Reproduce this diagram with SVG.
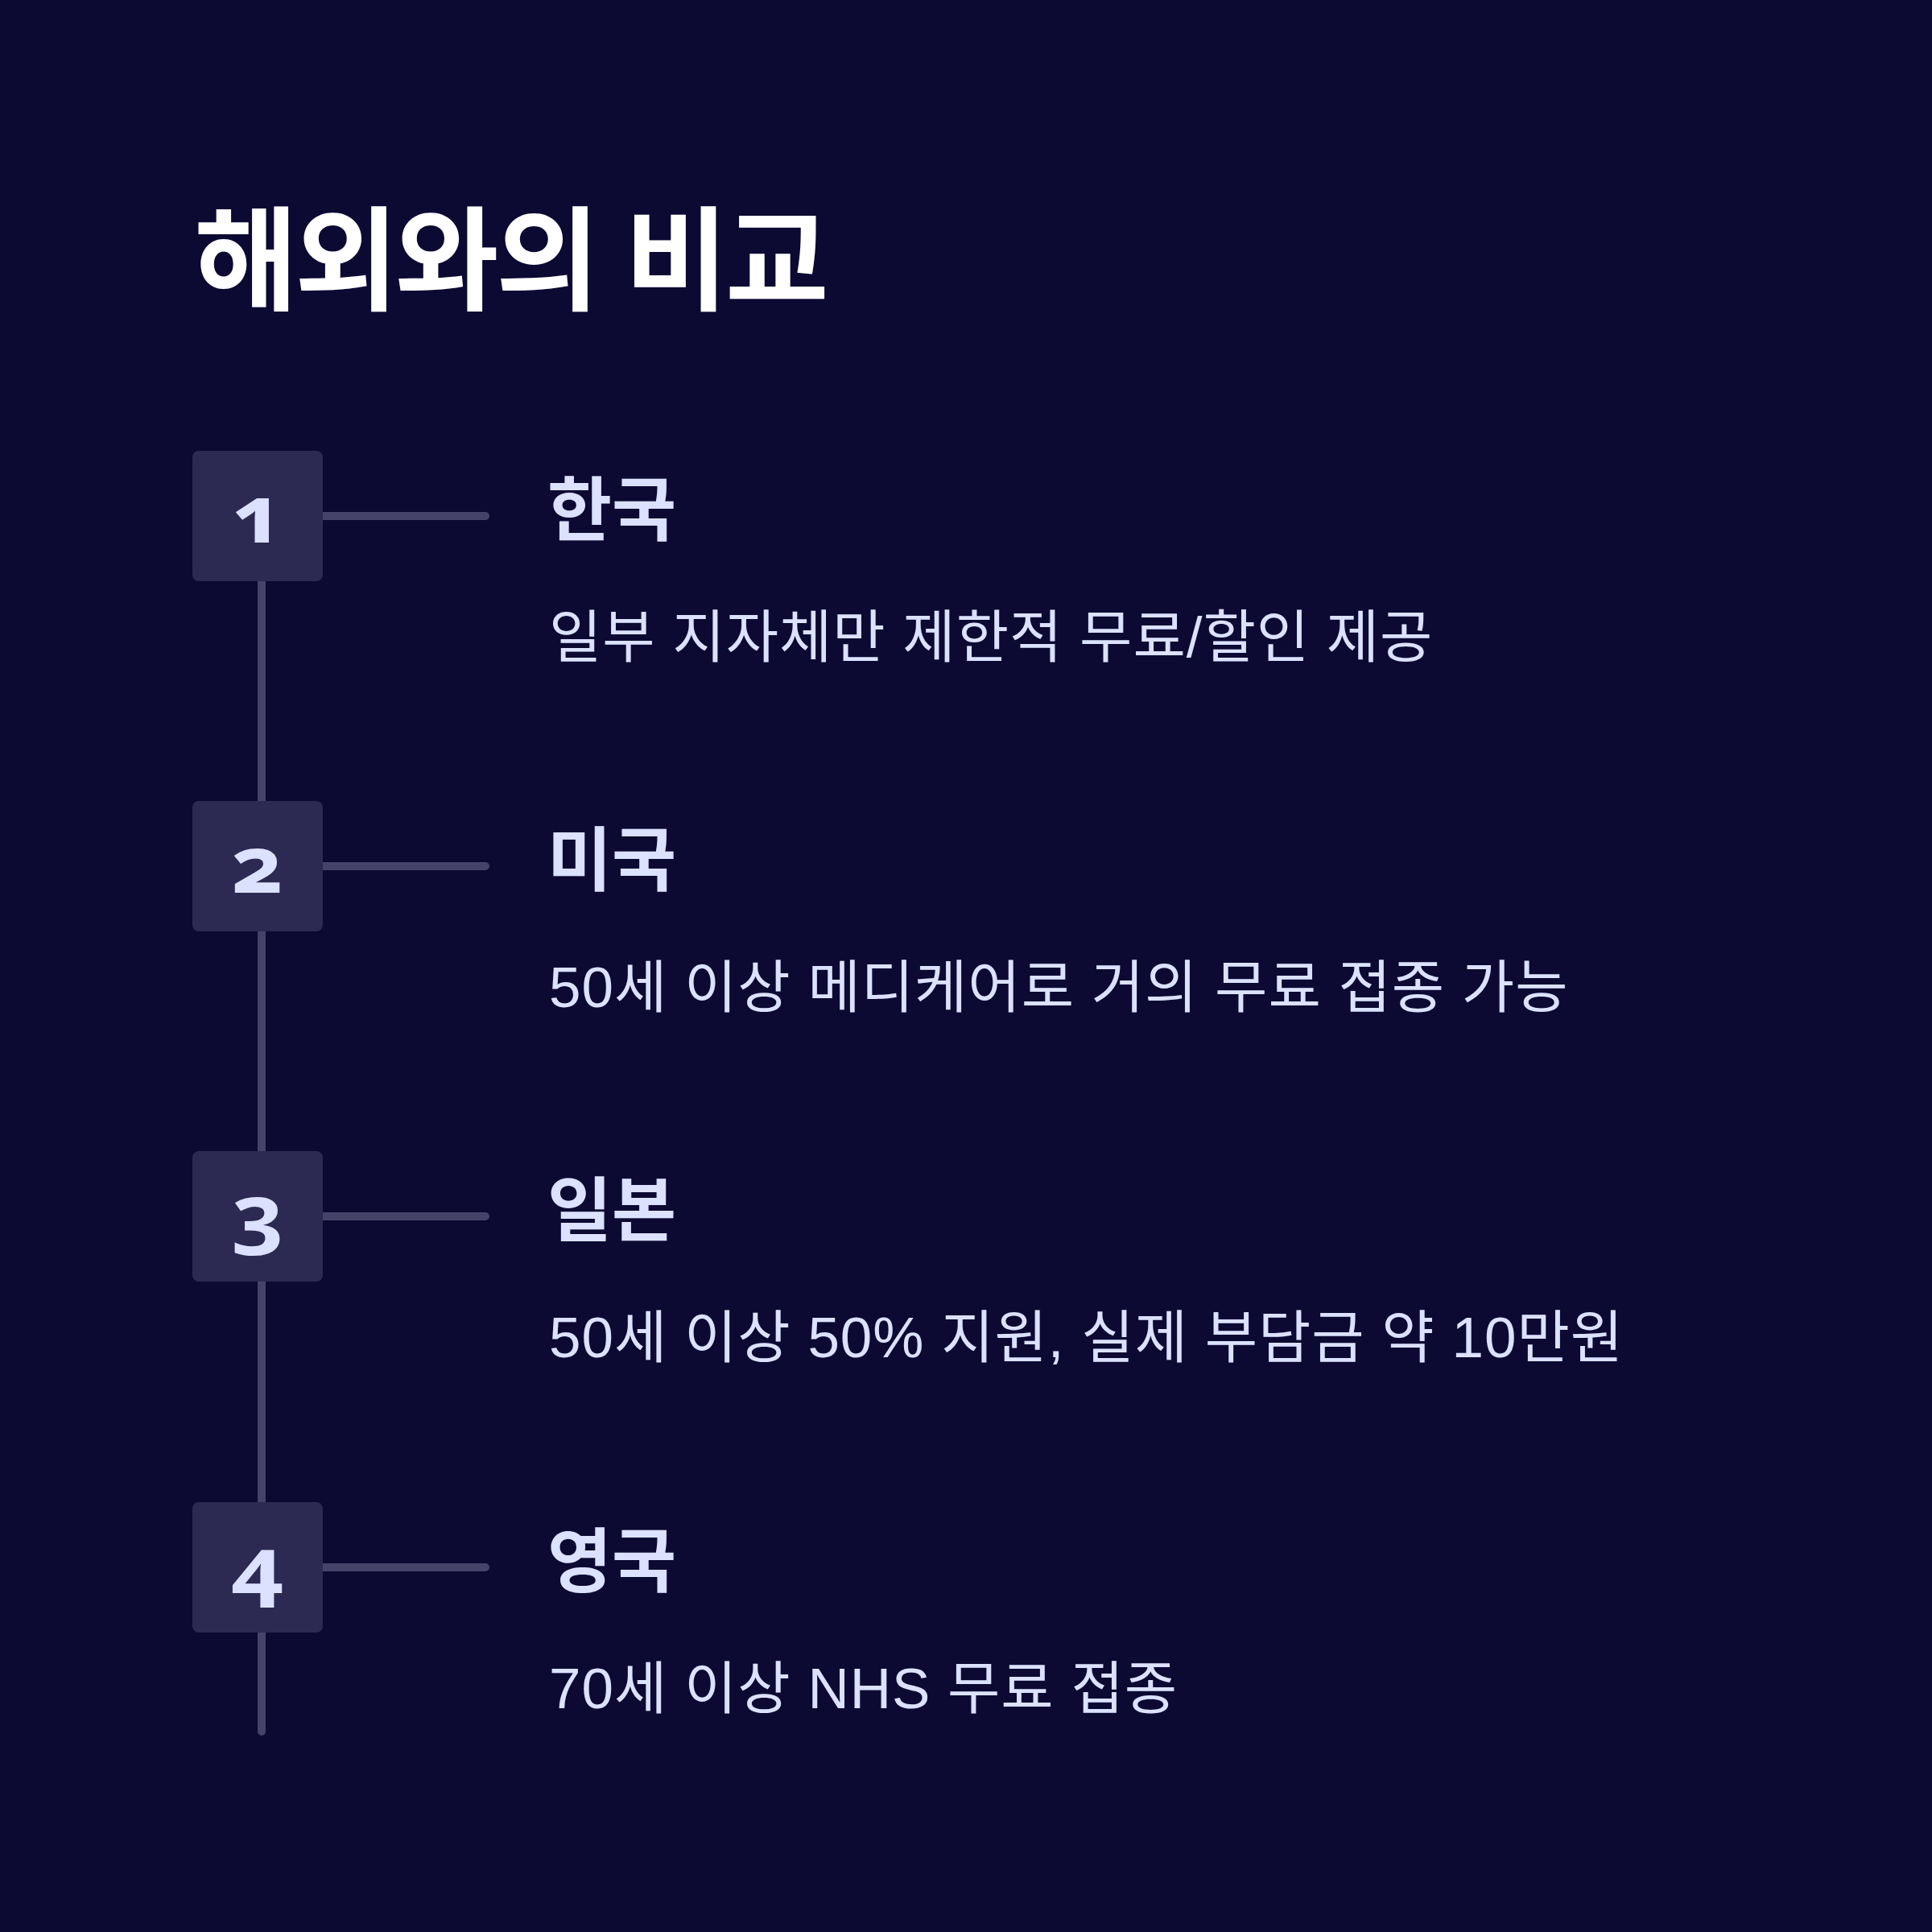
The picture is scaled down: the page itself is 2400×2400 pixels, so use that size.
<svg xmlns="http://www.w3.org/2000/svg" width="2400" height="2400" viewBox="0 0 2400 2400">
<style>
.bg{fill:#0C0A33}
.box{fill:#2C2A52}
.ln{stroke:#46436B;stroke-width:10;stroke-linecap:round;fill:none}
.title{font-family:"Liberation Sans","Noto Sans CJK KR",sans-serif;font-weight:700;font-size:140px;letter-spacing:-3.8px;fill:#FFFFFF}
.lab{font-family:"Liberation Sans","Noto Sans CJK KR",sans-serif;font-weight:700;font-size:87px;fill:#DCE1FF}
.desc{font-family:"Liberation Sans","Noto Sans CJK KR",sans-serif;font-weight:400;font-size:71px;letter-spacing:1px;fill:#DCE1FF}
.num{font-family:"Noto Sans",sans-serif;font-weight:700;font-size:98px;fill:#DCE1FF;text-anchor:middle;font-variant-numeric:oldstyle-nums;font-feature-settings:"onum" 1}
</style>
<rect class="bg" x="0" y="0" width="2400" height="2400"/>
<text id="title" class="title" x="241" y="374">해외와의 비교</text>
<g id="connectors">
<line class="ln" x1="325" y1="641" x2="325" y2="2151"/>
<line class="ln" x1="395" y1="641" x2="603" y2="641"/>
<line class="ln" x1="395" y1="1076" x2="603" y2="1076"/>
<line class="ln" x1="395" y1="1511" x2="603" y2="1511"/>
<line class="ln" x1="395" y1="1947" x2="603" y2="1947"/>
</g>
<g id="node1">
<rect class="box" x="239" y="560" width="162" height="162" rx="8"/>
<text class="num" transform="translate(320,674) scale(1.15,1)">1</text>
<text class="lab" x="680" y="665">한국</text>
<text class="desc" x="682" y="816">일부 지자체만 제한적 무료/할인 제공</text>
</g>
<g id="node2">
<rect class="box" x="239" y="995" width="162" height="162" rx="8"/>
<text class="num" transform="translate(320,1109) scale(1.15,1)">2</text>
<text class="lab" x="680" y="1100">미국</text>
<text class="desc" x="682" y="1251">50세 이상 메디케어로 거의 무료 접종 가능</text>
</g>
<g id="node3">
<rect class="box" x="239" y="1430" width="162" height="162" rx="8"/>
<text class="num" transform="translate(320,1544) scale(1.15,1)">3</text>
<text class="lab" x="680" y="1535">일본</text>
<text class="desc" x="682" y="1686">50세 이상 50% 지원, 실제 부담금 약 10만원</text>
</g>
<g id="node4">
<rect class="box" x="239" y="1866" width="162" height="162" rx="8"/>
<text class="num" transform="translate(320,1980) scale(1.15,1)">4</text>
<text class="lab" x="680" y="1971">영국</text>
<text class="desc" x="682" y="2122">70세 이상 NHS 무료 접종</text>
</g>
</svg>
